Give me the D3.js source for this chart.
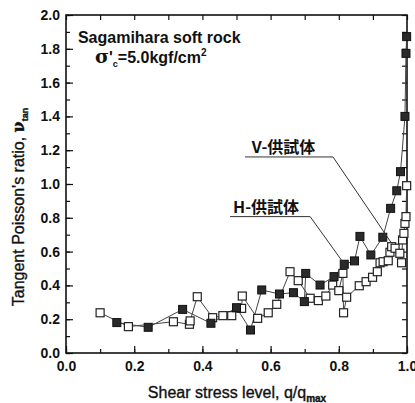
<!DOCTYPE html>
<html>
<head>
<meta charset="utf-8">
<script src="https://cdn.jsdelivr.net/npm/d3@7"></script>
<style>
  body { margin: 0; background: #fff; }
  svg { display: block; font-family: "Liberation Sans", Arial, sans-serif; }
</style>
</head>
<body>
<div id="chart"></div>
<script>
// shear stress level q/qmax and tangent Poisson's ratio
const qFilled = [0.149, 0.241, 0.342, 0.425, 0.500, 0.541, 0.574, 0.626, 0.667, 0.699, 0.703,
                 0.745, 0.786, 0.816, 0.846, 0.862, 0.894, 0.929, 0.952, 0.970, 0.981, 0.994, 0.997, 0.999];
const nuFilled = [0.18, 0.152, 0.258, 0.176, 0.268, 0.136, 0.373, 0.349, 0.357, 0.304, 0.471,
                  0.402, 0.452, 0.525, 0.545, 0.69, 0.58, 0.685, 0.856, 0.96, 1.073, 1.40, 1.773, 1.872];

const qOpen = [0.100, 0.183, 0.315, 0.362, 0.364, 0.385, 0.430, 0.460, 0.486, 0.515, 0.517,
               0.562, 0.593, 0.618, 0.657, 0.681, 0.716, 0.740, 0.762, 0.782, 0.800, 0.812, 0.814,
               0.823, 0.860, 0.880, 0.899, 0.913, 0.921, 0.930, 0.945, 0.950, 0.955, 0.965, 0.979,
               0.984, 0.987, 0.991, 0.994, 0.997, 0.999];
const nuOpen = [0.238, 0.156, 0.185, 0.17, 0.19, 0.333, 0.209, 0.221, 0.221, 0.264, 0.337,
                0.205, 0.238, 0.288, 0.481, 0.428, 0.324, 0.31, 0.337, 0.402, 0.369, 0.471, 0.238,
                0.33, 0.398, 0.422, 0.448, 0.481, 0.534, 0.54, 0.546, 0.596, 0.629, 0.62, 0.59,
                0.534, 0.669, 0.708, 0.767, 0.807, 0.99];

const xTicks = [0, 0.2, 0.4, 0.6, 0.8, 1.0];
const yTicks = [0, 0.2, 0.4, 0.6, 0.8, 1.0, 1.2, 1.4, 1.6, 1.8, 2.0];

const W = 415, H = 403;
const plot = { left: 66, right: 407, top: 15, bottom: 353 };

const svg = d3.select("#chart").append("svg")
    .attr("width", W).attr("height", H);

svg.append("rect").attr("width", W).attr("height", H).attr("fill", "#fff");

const x = d3.scaleLinear().domain([0, 1]).range([plot.left, plot.right]);
const y = d3.scaleLinear().domain([0, 2]).range([plot.bottom, plot.top]);

const minorX = d3.range(0, 1.0001, 0.1);
const minorY = d3.range(0, 2.0001, 0.1);

// ticks all point inward
function styleAxis(g) {
  g.select(".domain").remove();
  g.selectAll("line").attr("stroke", "#111").attr("stroke-width", 1.2);
}

// bottom
svg.append("g").attr("transform", `translate(0,${plot.bottom})`)
   .call(d3.axisBottom(x).tickValues(minorX).tickSize(-4).tickFormat(""))
   .call(styleAxis);
svg.append("g").attr("transform", `translate(0,${plot.bottom})`)
   .call(d3.axisBottom(x).tickValues(xTicks).tickSize(-7).tickPadding(8).tickFormat(d3.format(".1f")))
   .call(styleAxis)
   .selectAll("text").attr("font-size", 14).attr("font-weight", "bold").attr("fill", "#111")
   .attr("font-family", "Liberation Sans, Arial, sans-serif");

// top
svg.append("g").attr("transform", `translate(0,${plot.top})`)
   .call(d3.axisTop(x).tickValues(minorX).tickSize(-5).tickFormat(""))
   .call(styleAxis);

// left
svg.append("g").attr("transform", `translate(${plot.left},0)`)
   .call(d3.axisLeft(y).tickValues(minorY).tickSize(-4).tickFormat(""))
   .call(styleAxis);
svg.append("g").attr("transform", `translate(${plot.left},0)`)
   .call(d3.axisLeft(y).tickValues(yTicks).tickSize(-7).tickPadding(6).tickFormat(d3.format(".1f")))
   .call(styleAxis)
   .selectAll("text").attr("font-size", 14).attr("font-weight", "bold").attr("fill", "#111")
   .attr("font-family", "Liberation Sans, Arial, sans-serif");

// right
svg.append("g").attr("transform", `translate(${plot.right},0)`)
   .call(d3.axisRight(y).tickValues(minorY).tickSize(-5).tickFormat(""))
   .call(styleAxis);

// frame
svg.append("rect")
   .attr("x", plot.left).attr("y", plot.top)
   .attr("width", plot.right - plot.left).attr("height", plot.bottom - plot.top)
   .attr("fill", "none").attr("stroke", "#111").attr("stroke-width", 1.6);

// series lines
const line = d3.line().x(d => x(d[0])).y(d => y(d[1]));
const openPts = qOpen.map((q, i) => [q, nuOpen[i]]);
const filledPts = qFilled.map((q, i) => [q, nuFilled[i]]);

svg.append("path").datum(openPts).attr("d", line)
   .attr("fill", "none").attr("stroke", "#444").attr("stroke-width", 1);
svg.append("path").datum(filledPts).attr("d", line)
   .attr("fill", "none").attr("stroke", "#444").attr("stroke-width", 1);

const sq = 8;
svg.selectAll(".open").data(openPts).enter().append("rect")
   .attr("class", "open")
   .attr("x", d => x(d[0]) - sq / 2).attr("y", d => y(d[1]) - sq / 2)
   .attr("width", sq).attr("height", sq)
   .attr("fill", "#fff").attr("stroke", "#222").attr("stroke-width", 1.2);
svg.selectAll(".filled").data(filledPts).enter().append("rect")
   .attr("class", "filled")
   .attr("x", d => x(d[0]) - sq / 2).attr("y", d => y(d[1]) - sq / 2)
   .attr("width", sq).attr("height", sq)
   .attr("fill", "#2a2a2a").attr("stroke", "#111").attr("stroke-width", 1);

// leader lines for the specimen labels (data coordinates)
const vLeader = [[0.525, 1.16], [0.783, 1.16], [0.955, 0.649]];
const hLeader = [[0.481, 0.807], [0.716, 0.807], [0.818, 0.521]];
[vLeader, hLeader].forEach(pts => {
  svg.append("path").datum(pts).attr("d", line)
     .attr("fill", "none").attr("stroke", "#333").attr("stroke-width", 1);
});

const jp = "'Noto Sans CJK JP', sans-serif";
svg.append("text").attr("x", x(0.545)).attr("y", y(1.183))
   .attr("font-family", jp).attr("font-weight", "bold").attr("font-size", 16).attr("fill", "#111")
   .text("V-供試体");
svg.append("text").attr("x", x(0.49)).attr("y", y(0.828))
   .attr("font-family", jp).attr("font-weight", "bold").attr("font-size", 16).attr("fill", "#111")
   .text("H-供試体");

// title block
svg.append("text").attr("x", x(0.035)).attr("y", y(1.834))
   .attr("font-size", 16).attr("font-weight", "bold").attr("fill", "#111")
   .text("Sagamihara soft rock");
const sig = svg.append("text").attr("x", x(0.085)).attr("y", y(1.716))
   .attr("font-size", 16).attr("font-weight", "bold").attr("fill", "#111");
sig.append("tspan").attr("font-family", "DejaVu Serif, serif").attr("font-size", 19).text("σ");
sig.append("tspan").text("'");
sig.append("tspan").attr("font-size", 9).attr("dy", 4).text("c");
sig.append("tspan").attr("dy", -4).text("=5.0kgf/cm");
sig.append("tspan").attr("font-size", 10).attr("dy", -7).text("2");

// axis titles (slightly heavier than regular)
const xt = svg.append("text").attr("x", 237).attr("y", 398)
   .attr("text-anchor", "middle").attr("font-size", 16).attr("fill", "#111")
   .attr("stroke", "#111").attr("stroke-width", 0.35);
xt.append("tspan").text("Shear stress level, q/q");
xt.append("tspan").attr("font-size", 10).attr("dy", 4).attr("font-weight", "bold").text("max");

const yt = svg.append("text")
   .attr("transform", `translate(24,207) rotate(-90)`)
   .attr("text-anchor", "middle").attr("font-size", 16).attr("fill", "#111")
   .attr("stroke", "#111").attr("stroke-width", 0.35);
yt.append("tspan").text("Tangent Poisson's ratio, ");
yt.append("tspan").attr("font-family", "DejaVu Serif, serif").attr("font-weight", "bold").text("ν");
yt.append("tspan").attr("font-size", 9).attr("dy", 4).attr("font-weight", "bold").text("tan");
</script>
</body>
</html>
